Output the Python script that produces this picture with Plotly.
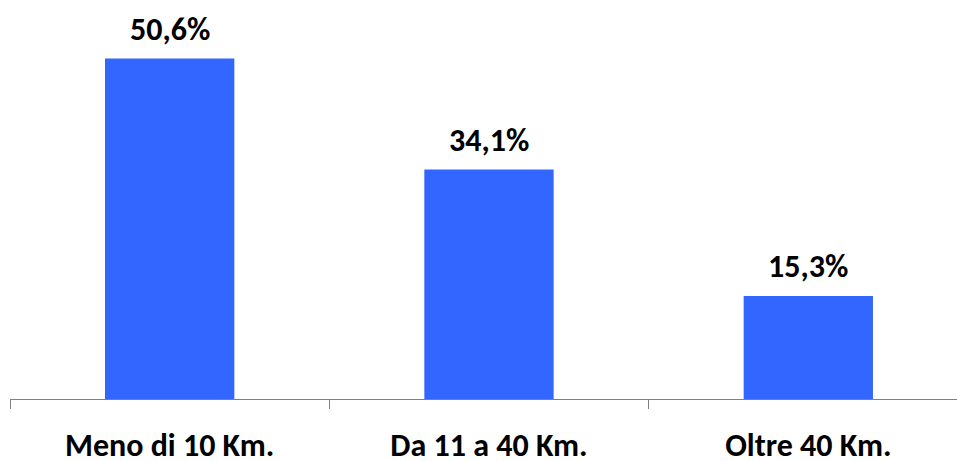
import plotly.graph_objects as go

categories = ["Meno di 10 Km.", "Da 11 a 40 Km.", "Oltre 40 Km."]
values = [50.6, 34.1, 15.3]
labels = ["50,6%", "34,1%", "15,3%"]

FONT = "Carlito, Lato, sans-serif"

fig = go.Figure(
    go.Bar(
        x=categories,
        y=values,
        marker=dict(color="#3366FF", line=dict(width=0)),
        width=0.405,
        hoverinfo="skip",
    )
)

for c, v, t in zip(categories, values, labels):
    fig.add_annotation(
        x=c, y=v, text=f"<b>{t}</b>", showarrow=False,
        yanchor="bottom", yshift=8,
        font=dict(family=FONT, size=32, color="#000000"),
    )

fig.update_layout(
    width=957,
    height=461,
    margin=dict(l=10, r=0, t=0, b=62),
    paper_bgcolor="white",
    plot_bgcolor="white",
    showlegend=False,
    font=dict(family=FONT, size=32, color="#000000"),
)

fig.update_xaxes(
    type="category",
    range=[-0.5, 2.4656],
    automargin=False,
    showline=True,
    linecolor="#808080",
    linewidth=1,
    ticks="outside",
    tickson="boundaries",
    ticklen=9,
    tickcolor="#808080",
    tickwidth=1,
    tickfont=dict(family=FONT, size=32, color="#000000", weight="bold"),
    ticklabelstandoff=18,
    showgrid=False,
    zeroline=False,
)

fig.update_yaxes(
    range=[0, 59.3],
    automargin=False,
    visible=False,
    showgrid=False,
    zeroline=False,
)

fig.write_html(
    "out.html",
    config={"displayModeBar": False, "staticPlot": True},
    post_script="document.body.style.margin='0';document.body.style.overflow='hidden';",
)
